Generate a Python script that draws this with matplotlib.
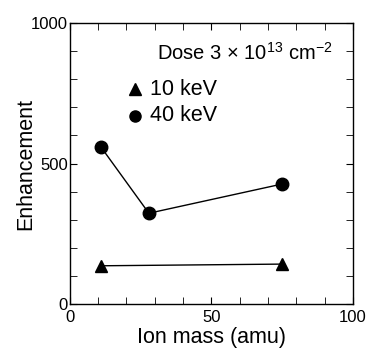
import matplotlib
matplotlib.use("Agg")
import matplotlib.pyplot as plt
from matplotlib.ticker import MultipleLocator

plt.rcParams['font.family'] = ['Liberation Sans', 'DejaVu Sans']
plt.rcParams['mathtext.fontset'] = 'custom'
plt.rcParams['mathtext.rm'] = 'Liberation Sans'

mass_10 = [11, 75]
enh_10 = [136, 142]
mass_40 = [11, 28, 75]
enh_40 = [560, 323, 427]

fig = plt.figure(figsize=(3.69, 3.55), dpi=100)
ax = fig.add_axes([69.5/369, 1 - 304/355, (353-69.5)/369, (304-23)/355])

ax.plot(mass_10, enh_10, color='black', lw=1, marker='^', ms=8, mfc='black', mec='black')
ax.plot(mass_40, enh_40, color='black', lw=1, marker='o', ms=9, mfc='black', mec='black')

ax.set_xlim(0, 100)
ax.set_ylim(0, 1000)
ax.xaxis.set_major_locator(MultipleLocator(50))
ax.xaxis.set_minor_locator(MultipleLocator(10))
ax.yaxis.set_major_locator(MultipleLocator(500))
ax.yaxis.set_minor_locator(MultipleLocator(100))
ax.tick_params(which='both', direction='in', top=True, right=True, labelsize=12)
ax.tick_params(axis='x', which='both', pad=4)
ax.tick_params(axis='y', which='both', pad=1)
ax.tick_params(which='major', length=5)
ax.tick_params(which='minor', length=5)
for s in ax.spines.values():
    s.set_linewidth(1)

ax.set_xlabel('Ion mass (amu)', fontsize=15.5, va='center')
ax.set_ylabel('Enhancement', fontsize=15.5, va='center')
ax.xaxis.set_label_coords(0.5, -0.12)
ax.yaxis.set_label_coords(-0.153, 0.5)

ax.text(0.31, 0.895, r'Dose 3 $\times$ 10$^{13}$ cm$^{-2}$', transform=ax.transAxes,
        fontsize=14.5, ha='left', va='center')

ax.plot([0.23], [0.765], transform=ax.transAxes, marker='^', ms=8, color='black', ls='none')
ax.text(0.285, 0.765, '10 keV', transform=ax.transAxes, fontsize=15.5, ha='left', va='center')
ax.plot([0.23], [0.67], transform=ax.transAxes, marker='o', ms=8, color='black', ls='none')
ax.text(0.285, 0.67, '40 keV', transform=ax.transAxes, fontsize=15.5, ha='left', va='center')

fig.savefig('out.png', dpi=100)
